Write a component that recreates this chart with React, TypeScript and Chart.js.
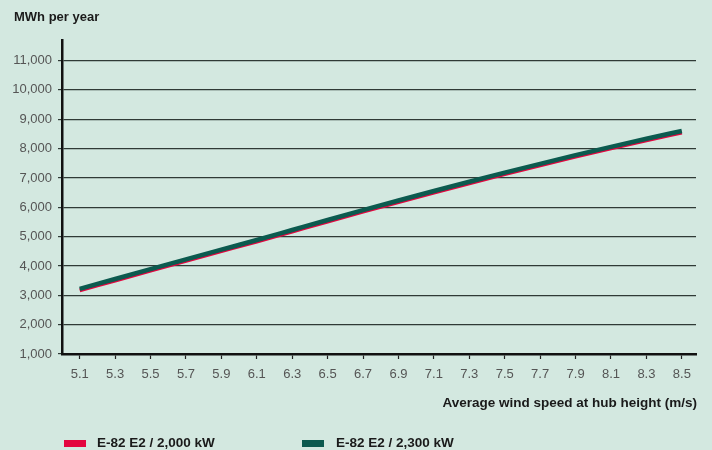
import React, { useEffect, useRef } from "react";
import { Chart, registerables } from "chart.js";

Chart.register(...registerables);

const windSpeeds = [5.1, 5.3, 5.5, 5.7, 5.9, 6.1, 6.3, 6.5, 6.7, 6.9, 7.1, 7.3, 7.5, 7.7, 7.9, 8.1, 8.3, 8.5];
const e82_2000 = [3170, 3505, 3840, 4175, 4505, 4835, 5175, 5515, 5850, 6180, 6505, 6820, 7130, 7430, 7725, 8010, 8285, 8550];
const e82_2300 = [3220, 3555, 3890, 4225, 4555, 4885, 5225, 5565, 5900, 6230, 6555, 6870, 7180, 7480, 7775, 8060, 8335, 8600];
const yTicks = [1000, 2000, 3000, 4000, 5000, 6000, 7000, 8000, 9000, 10000, 11000];
const seriesNames = ["E-82 E2 / 2,000 kW", "E-82 E2 / 2,300 kW"];

const RED = "#e3063f";
const GREEN = "#0c5a4f";
const BG = "#d3e8e0";
const FONT = "'Liberation Sans', Arial, sans-serif";

export default function App() {
  const ref = useRef<HTMLCanvasElement | null>(null);

  useEffect(() => {
    if (!ref.current) return;
    const chart = new Chart(ref.current, {
      type: "line",
      data: {
        datasets: [
          {
            label: seriesNames[0],
            data: windSpeeds.map((x, i) => ({ x, y: e82_2000[i] })),
            borderColor: RED,
            borderWidth: 4,
            pointRadius: 0,
            cubicInterpolationMode: "monotone",
            order: 1,
          },
          {
            label: seriesNames[1],
            data: windSpeeds.map((x, i) => ({ x, y: e82_2300[i] })),
            borderColor: GREEN,
            borderWidth: 4.5,
            pointRadius: 0,
            cubicInterpolationMode: "monotone",
            order: 0,
          },
        ],
      },
      options: {
        animation: false,
        responsive: false,
        maintainAspectRatio: false,
        layout: { padding: { left: 0, top: 40, right: 16, bottom: 0 } },
        plugins: { legend: { display: false }, tooltip: { enabled: false } },
        scales: {
          x: {
            type: "linear",
            min: 5.0,
            max: 8.58,
            afterBuildTicks: (s: any) => {
              s.ticks = windSpeeds.map((v) => ({ value: v }));
            },
            afterFit: (s: any) => {
              s.height = 96;
            },
            ticks: {
              autoSkip: false,
              maxRotation: 0,
              padding: 8,
              color: "#555",
              font: { family: FONT, size: 13 },
              callback: (v: any) => Number(v).toFixed(1),
            },
            grid: {
              drawOnChartArea: false,
              drawTicks: true,
              tickLength: 5,
              tickWidth: 1.2,
              tickColor: "#222",
            },
            border: { display: true, color: "#111", width: 2.5 },
          },
          y: {
            type: "linear",
            min: 1000,
            max: 11700,
            afterBuildTicks: (s: any) => {
              s.ticks = yTicks.map((v) => ({ value: v }));
            },
            afterFit: (s: any) => {
              s.width = 62;
            },
            ticks: {
              padding: 6,
              color: "#555",
              font: { family: FONT, size: 13 },
              callback: (v: any) => Number(v).toLocaleString("en-US"),
            },
            grid: {
              color: "#2f3a36",
              lineWidth: 1.2,
              tickLength: 4,
              tickColor: "#2f3a36",
            },
            border: { display: true, color: "#111", width: 2.5 },
          },
        },
      },
    });
    return () => chart.destroy();
  }, []);

  const boldText = { position: "absolute" as const, fontSize: 13.5, fontWeight: "bold" as const, color: "#1a1a1a", whiteSpace: "nowrap" as const };

  return (
    <div
      style={{
        position: "fixed",
        left: 0,
        top: 0,
        width: 712,
        height: 450,
        background: BG,
        overflow: "hidden",
        fontFamily: FONT,
      }}
    >
      <canvas ref={ref} width={712} height={450} style={{ position: "absolute", left: 0, top: 0 }} />
      <div style={{ ...boldText, left: 14, top: 9, fontSize: 13 }}>MWh per year</div>
      <div style={{ ...boldText, right: 15, top: 395 }}>Average wind speed at hub height (m/s)</div>
      <div style={{ position: "absolute", left: 64, top: 440, width: 22, height: 7, background: RED }} />
      <div style={{ ...boldText, left: 97, top: 435 }}>{seriesNames[0]}</div>
      <div style={{ position: "absolute", left: 302, top: 440, width: 22, height: 7, background: GREEN }} />
      <div style={{ ...boldText, left: 336, top: 435 }}>{seriesNames[1]}</div>
    </div>
  );
}
